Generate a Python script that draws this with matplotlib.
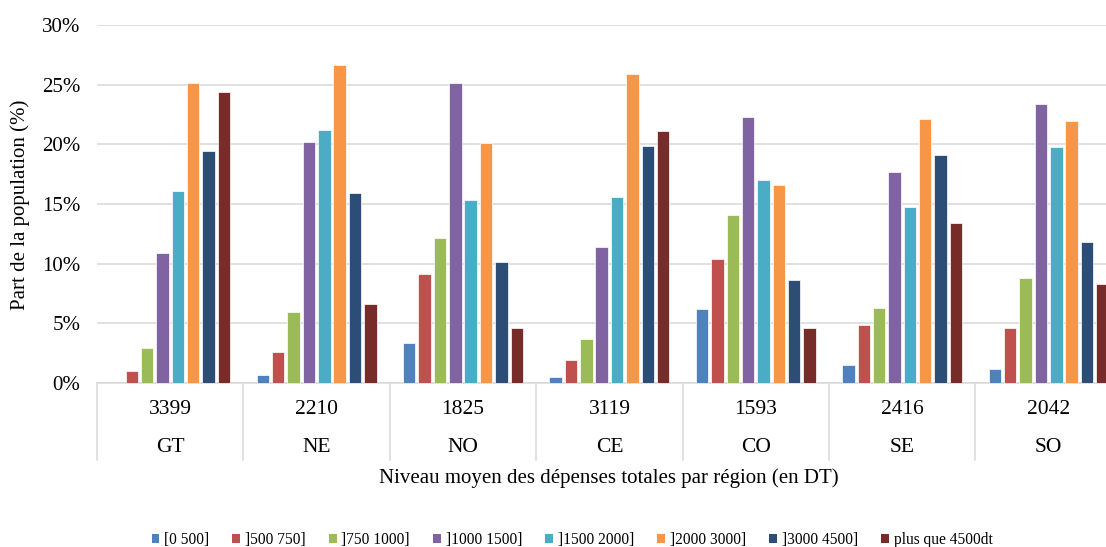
import matplotlib
matplotlib.use("Agg")
import matplotlib.pyplot as plt
from matplotlib.patches import Patch
from matplotlib.ticker import PercentFormatter
import numpy as np

plt.rcParams['font.family'] = ['Liberation Serif', 'DejaVu Serif']

regions = ["GT", "NE", "NO", "CE", "CO", "SE", "SO"]
mean_spend = ["3399", "2210", "1825", "3119", "1593", "2416", "2042"]
series_names = ["[0 500]", "]500 750]", "]750 1000]", "]1000 1500]",
                "]1500 2000]", "]2000 3000]", "]3000 4500]", "plus que 4500dt"]
colors = ["#4F81BD", "#C0504D", "#9BBB59", "#8064A2",
          "#4BACC6", "#F79646", "#2C4D75", "#772C2A"]

s_0_500 = [0.0, 0.70, 3.35, 0.50, 6.20, 1.55, 1.15]
s_500_750 = [1.02, 2.58, 9.10, 1.92, 10.35, 4.82, 4.65]
s_750_1000 = [2.90, 5.95, 12.15, 3.65, 14.12, 6.27, 8.82]
s_1000_1500 = [10.92, 20.20, 25.17, 11.40, 22.32, 17.66, 23.35]
s_1500_2000 = [16.06, 21.23, 15.35, 15.60, 17.05, 14.77, 19.81]
s_2000_3000 = [25.13, 26.65, 20.14, 25.88, 16.63, 22.15, 21.98]
s_3000_4500 = [19.40, 15.94, 10.10, 19.84, 8.65, 19.14, 11.82]
s_4500_plus = [24.42, 6.66, 4.57, 21.12, 4.57, 13.43, 8.31]

series = [s_0_500, s_500_750, s_750_1000, s_1000_1500,
          s_1500_2000, s_2000_3000, s_3000_4500, s_4500_plus]

W, H = 1106, 547
fig = plt.figure(figsize=(W / 100, H / 100), dpi=100)
left, right, bottom, top = 97, 1106, 383, 25
ax = fig.add_axes([left / W, 1 - bottom / H, (right - left) / W, (bottom - top) / H])

group_px = 146.4
x = np.arange(len(regions))
pitch = 0.105
width = 0.085
for i, (vals, c) in enumerate(zip(series, colors)):
    ax.bar(x + (i - 3.5) * pitch, vals, width=width, color=c,
           edgecolor="white", linewidth=0.5, zorder=3)

ax.set_xlim(-0.5, -0.5 + (right - left) / group_px)
ax.set_ylim(0, 30)
ax.set_yticks(np.arange(0, 31, 5))
ax.yaxis.set_major_formatter(PercentFormatter(decimals=0))
ax.tick_params(axis='y', length=0, pad=12, labelsize=15)
ax.set_xticks([])
ax.grid(axis='y', color="#D9D9D9", linewidth=1.1, zorder=0)
for s in ["top", "right", "left"]:
    ax.spines[s].set_visible(False)
ax.spines["bottom"].set_color("#D9D9D9")
ax.spines["bottom"].set_linewidth(1.1)

ax_h = bottom - top
def yfrac(py):
    return -(py - bottom) / ax_h

# separators
for b in np.arange(-0.5, len(regions) + 0.5, 1.0):
    ax.plot([b, b], [0, yfrac(460)], transform=ax.get_xaxis_transform(),
            color="#D9D9D9", linewidth=1.1, clip_on=False)

for xi, num, reg in zip(x, mean_spend, regions):
    ax.text(xi, yfrac(410), num, transform=ax.get_xaxis_transform(),
            ha="center", va="center", fontsize=15.5)
    ax.text(xi, yfrac(448), reg, transform=ax.get_xaxis_transform(),
            ha="center", va="center", fontsize=15.5)

fig.text(609 / W, 1 - 478 / H, "Niveau moyen des dépenses totales par région (en DT)",
         ha="center", va="center", fontsize=15)
fig.text(20 / W, 1 - 205 / H, "Part de la population (%)", rotation=90,
         ha="center", va="center", fontsize=15)

handles = [Patch(facecolor=c, edgecolor="none") for c in colors]
fig.legend(handles, series_names, loc="center", bbox_to_anchor=(572 / W, 1 - 540 / H),
           ncol=8, frameon=False, fontsize=11.2, handlelength=0.5, handleheight=0.5,
           handletextpad=0.3, columnspacing=1.5, borderpad=0, borderaxespad=0)

fig.savefig("out.png", dpi=100)
